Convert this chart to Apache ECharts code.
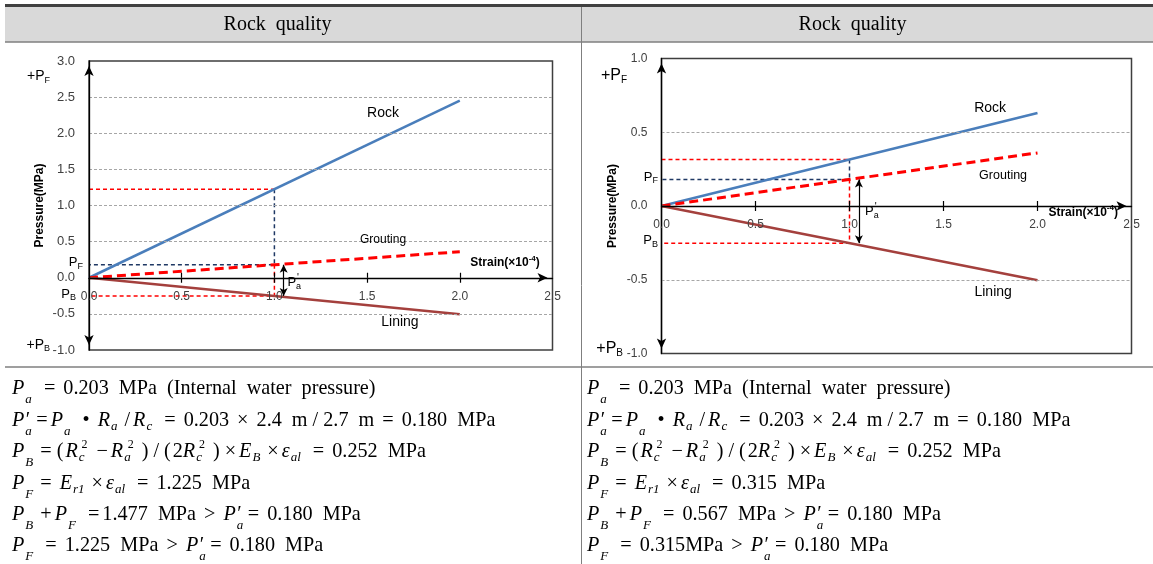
<!DOCTYPE html>
<html><head><meta charset="utf-8">
<script src="https://cdn.jsdelivr.net/npm/echarts@6/dist/echarts.min.js"></script>
<style>html,body{margin:0;padding:0;background:#fff}#c{width:1153px;height:564px}</style>
</head><body><div id="c"></div>
<script>
// ---------- data ----------
const headerTitles = ['Rock  quality', 'Rock  quality'];
const strain = [0, 2.0];
const rockA = [0, 2.45];
const groutA = [0, 0.36];
const liningA = [0, -0.504];
const rockB = [0, 0.63];
const groutB = [0, 0.36];
const liningB = [0, -0.504];
const checkStrain = 1.0;
const pFA = 1.225;
const pFB = 0.315;
const paPrime = 0.18;
const pB = -0.252;
const arrowStrain = 1.05;
const xTickLabels = [0, 0.5, 1.0, 1.5, 2.0, 2.5];
const xTickMarks = [0.5, 1.0, 1.5, 2.0];
const yRangeA = [-1, 3];
const yRangeB = [-1, 1];
const seriesNames = ['Rock', 'Grouting', 'Lining'];

const formulasLeft = [
  '{p|P}{sp|a}{r| }{o|=}{r| 0.203  MPa  (Internal  water  pressure)}',
  '{p|P}{sa|a}{q|′}{o|=}{p|P}{sp|a}{r| }{o|•}{r| }{p|R}{sr|a}{o|/}{p|R}{sr|c}{r| }{o|=}{r| 0.203 }{o|×}{r| 2.4  m / 2.7  m }{o|=}{r| 0.180  MPa}',
  '{p|P}{sp|B}{o|=}{pr|(}{p|R}{src|c}{uq|2}{o|−}{p|R}{src|a}{uq|2}{pr|)}{o|/}{pr|(}{r|2}{p|R}{src|c}{uq|2}{pr|)}{o|×}{p|E}{sr|B}{o|×}{p|ε}{sr|al}{r| }{o|=}{r| 0.252  MPa}',
  '{p|P}{sp|F}{o|=}{r| }{p|E}{sr|r1}{o|×}{p|ε}{sr|al}{r| }{o|=}{r| 1.225  MPa}',
  '{p|P}{sp|B}{o|+}{p|P}{sp|F}{r| }{o|=}{r|1.477  MPa }{o|>}{r| }{p|P}{sa|a}{q|′}{o|=}{r| 0.180  MPa}',
  '{p|P}{sp|F}{r| }{o|=}{r| 1.225  MPa }{o|>}{r| }{p|P}{sa|a}{q|′}{o|=}{r| 0.180  MPa}'
];
const formulasRight = [
  '{p|P}{sp|a}{r| }{o|=}{r| 0.203  MPa  (Internal  water  pressure)}',
  '{p|P}{sa|a}{q|′}{o|=}{p|P}{sp|a}{r| }{o|•}{r| }{p|R}{sr|a}{o|/}{p|R}{sr|c}{r| }{o|=}{r| 0.203 }{o|×}{r| 2.4  m / 2.7  m }{o|=}{r| 0.180  MPa}',
  '{p|P}{sp|B}{o|=}{pr|(}{p|R}{src|c}{uq|2}{o|−}{p|R}{src|a}{uq|2}{pr|)}{o|/}{pr|(}{r|2}{p|R}{src|c}{uq|2}{pr|)}{o|×}{p|E}{sr|B}{o|×}{p|ε}{sr|al}{r| }{o|=}{r| 0.252  MPa}',
  '{p|P}{sp|F}{o|=}{r| }{p|E}{sr|r1}{o|×}{p|ε}{sr|al}{r| }{o|=}{r| 0.315  MPa}',
  '{p|P}{sp|B}{o|+}{p|P}{sp|F}{r| }{o|=}{r| 0.567  MPa }{o|>}{r| }{p|P}{sa|a}{q|′}{o|=}{r| 0.180  MPa}',
  '{p|P}{sp|F}{r| }{o|=}{r| 0.315MPa }{o|>}{r| }{p|P}{sa|a}{q|′}{o|=}{r| 0.180  MPa}'
];

// ---------- styles ----------
const SANS = 'Liberation Sans, Arial, sans-serif';
const SERIF = 'Liberation Serif, Times New Roman, serif';
const COL_ROCK = '#4a7ebb', COL_GROUT = '#ff0000', COL_LINING = '#a4403d', COL_NAVY = '#1f3864';

const richSans = {
  m: {fontSize: 13, fontFamily: SANS, color: '#000'},
  m14: {fontSize: 14, fontFamily: SANS, color: '#000'},
  m16: {fontSize: 16, fontFamily: SANS, color: '#000'},
  s: {fontSize: 9, fontFamily: SANS, color: '#000', padding: [8, 0, 0, 0]},
  s11: {fontSize: 10, fontFamily: SANS, color: '#000', padding: [10, 0, 0, 0]},
  sa: {fontSize: 9, fontFamily: SANS, color: '#000', padding: [8, -4, 0, 0]},
  u: {fontSize: 10, fontFamily: SANS, color: '#000', padding: [0, 0, 8, 0]},
  b: {fontSize: 12, fontFamily: SANS, fontWeight: 'bold', color: '#000'},
  bs: {fontSize: 8, fontFamily: SANS, fontWeight: 'bold', color: '#000', padding: [0, 0, 8, 0]}
};
const FS = 20.2;
const richSerif = {
  p: {fontFamily: SERIF, fontStyle: 'italic', fontSize: FS, fill: '#000', padding: [0, 1, 0, 0]},
  r: {fontFamily: SERIF, fontSize: FS, fill: '#000'},
  pr: {fontFamily: SERIF, fontSize: FS, fill: '#000', padding: [0, 2, 0, 2]},
  o: {fontFamily: SERIF, fontSize: FS, fill: '#000', padding: [0, 3, 0, 3]},
  q: {fontFamily: SERIF, fontSize: FS, fill: '#000', padding: [0, 3, 0, 0]},
  sp: {fontFamily: SERIF, fontStyle: 'italic', fontSize: 13, fill: '#000', padding: [22, 4, 0, 0]},
  sa: {fontFamily: SERIF, fontStyle: 'italic', fontSize: 13, fill: '#000', padding: [22, -6, 0, 0]},
  sr: {fontFamily: SERIF, fontStyle: 'italic', fontSize: 13, fill: '#000', padding: [12, 4, 0, 0]},
  src: {fontFamily: SERIF, fontStyle: 'italic', fontSize: 13, fill: '#000', padding: [12, -3, 0, 0]},
  uq: {fontFamily: SERIF, fontSize: 12, fill: '#000', padding: [0, 6, 14, 0]}
};

const gridBoxes = [
  {left: 89, top: 61, width: 463.5, height: 289},
  {left: 661.5, top: 58.5, width: 470, height: 295}
];
const yRanges = [yRangeA, yRangeB];

function pts(xs, ys) { return xs.map((x, i) => [x, ys[i]]); }

// offset of the x axis so it sits at pressure 0 (derived from the y scale range)
function zeroOffset(g) {
  const r = yRanges[g];
  return -gridBoxes[g].height * (0 - r[0]) / (r[1] - r[0]);
}

function xAxes(g) {
  const off = zeroOffset(g);
  const base = {gridIndex: g, type: 'value', min: 0, max: 2.5, interval: 0.5, position: 'bottom', offset: off, z: 5, splitLine: {show: false}};
  return [
    Object.assign({}, base, {
      axisLine: {show: true, onZero: false, lineStyle: {color: '#000', width: 1.3},
        symbol: ['none', 'arrow'], symbolSize: [7, 10], symbolOffset: [0, -5]},
      axisTick: {show: true, length: 5, customValues: xTickMarks, lineStyle: {color: '#000', width: 1.2}},
      axisLabel: {show: true, customValues: xTickLabels, fontSize: 12, color: '#404040', margin: 13, fontFamily: SANS,
        formatter: v => Number(v).toFixed(1)}
    }),
    Object.assign({}, base, {
      axisLine: {show: false, onZero: false},
      axisTick: {show: true, inside: true, length: 5, customValues: xTickMarks, lineStyle: {color: '#000', width: 1.2}},
      axisLabel: {show: false}
    })
  ];
}
function yAxis(g, range, fs) {
  return {
    gridIndex: g, type: 'value', min: range[0], max: range[1], interval: 0.5, position: 'left', z: 4,
    name: 'Pressure(MPa)', nameLocation: 'middle', nameGap: 43, nameRotate: 90,
    nameTextStyle: {fontSize: 12, fontWeight: 'bold', color: '#000', fontFamily: SANS},
    axisLine: {show: true, onZero: false, lineStyle: {color: '#000', width: 1.3},
      symbol: ['arrow', 'arrow'], symbolSize: [7, 10], symbolOffset: [5, -5]},
    axisTick: {show: false},
    axisLabel: {fontSize: fs, color: '#404040', margin: 14, fontFamily: SANS, formatter: v => Number(v).toFixed(1)},
    splitLine: {show: true, showMinLine: false, showMaxLine: false, lineStyle: {color: '#a6a6a6', type: [3, 2], width: 1}}
  };
}
function line(g, name, data, color, width, type, z) {
  return {type: 'line', name, xAxisIndex: 2 * g, yAxisIndex: g, data, symbol: 'none', showSymbol: false,
    silent: true, animation: false, z, lineStyle: {color, width, type}};
}
function ann(coord, formatter, opts) {
  return {coord, symbol: 'circle', symbolSize: 0, itemStyle: {color: 'rgba(0,0,0,0)'},
    label: Object.assign({show: true, position: 'inside', formatter, color: '#000', fontFamily: SANS, fontSize: 13, rich: richSans}, opts || {})};
}
function chartSeries(g, rock, grout, lining, pF, anns) {
  const s = [];
  s.push(line(g, 'refRedTop', [[0, pF], [checkStrain, pF]], '#ff0000', 1.5, [4, 3], 2));
  s.push(line(g, 'refNavy', [[checkStrain, pF], [checkStrain, paPrime], [0, paPrime]], COL_NAVY, 1.5, [4, 3], 2));
  s.push(line(g, 'refRedBottom', [[checkStrain, paPrime], [checkStrain, pB], [0, pB]], '#ff0000', 1.5, [4, 3], 2));
  const rockS = line(g, seriesNames[0], pts(strain, rock), COL_ROCK, 2.5, 'solid', 3);
  rockS.markPoint = {silent: true, animation: false, data: anns};
  s.push(rockS);
  s.push(line(g, seriesNames[1], pts(strain, grout), COL_GROUT, 3, [9, 5], 3));
  const linS = line(g, seriesNames[2], pts(strain, lining), COL_LINING, 2.5, 'solid', 3);
  linS.markLine = {silent: true, animation: false, symbol: ['arrow', 'arrow'], symbolSize: [6, 8],
    lineStyle: {color: '#000', width: 1.2, type: 'solid'}, label: {show: false},
    data: [[{coord: [arrowStrain, paPrime]}, {coord: [arrowStrain, pB]}]]};
  s.push(linS);
  return s;
}

const strainLabel = '{b|Strain(×10}{bs|-4}{b|)}';
const paLabel = '{m|P}{sa|a}{u|\'}';
const annsA = [
  ann([1.586, 2.28], 'Rock', {fontSize: 14}),
  ann([1.586, 0.52], 'Grouting', {fontSize: 12}),
  ann([1.677, -0.612], 'Lining', {fontSize: 14}),
  ann([2.244, 0.204], strainLabel),
  ann([1.07, -0.065], paLabel, {position: 'right', distance: 0}),
  ann([0, 0.21], '{m|P}{s|F}', {position: 'left', distance: 6}),
  ann([0, -0.225], '{m|P}{s|B}', {position: 'left', distance: 13}),
  ann([0, 2.79], '{m14|+P}{s|F}', {position: 'left', distance: 39}),
  ann([0, -0.93], '{m14|+P}{s|B}', {position: 'left', distance: 39})
];
const annsB = [
  ann([1.748, 0.663], 'Rock', {fontSize: 14}),
  ann([1.817, 0.209], 'Grouting', {fontSize: 12.5}),
  ann([1.764, -0.584], 'Lining', {fontSize: 14}),
  ann([2.243, -0.042], strainLabel),
  ann([1.083, -0.035], paLabel, {position: 'right', distance: 0}),
  ann([0, 0.197], '{m|P}{s|F}', {position: 'left', distance: 3.5}),
  ann([0, -0.232], '{m|P}{s|B}', {position: 'left', distance: 3.5}),
  ann([0, 0.887], '{m16|+P}{s11|F}', {position: 'left', distance: 34.5}),
  ann([0, -0.964], '{m16|+P}{s11|B}', {position: 'left', distance: 38.5})
];

const gridStyle = {show: true, borderColor: '#3f3f3f', borderWidth: 1.5, backgroundColor: 'rgba(0,0,0,0)'};
const option = {
  animation: false,
  textStyle: {fontFamily: SANS},
  grid: gridBoxes.map(b => Object.assign({}, b, gridStyle)),
  xAxis: xAxes(0).concat(xAxes(1)),
  yAxis: [yAxis(0, yRangeA, 13), yAxis(1, yRangeB, 12)],
  series: chartSeries(0, rockA, groutA, liningA, pFA, annsA).concat(chartSeries(1, rockB, groutB, liningB, pFB, annsB)),
  graphic: [
    {type: 'rect', z: -10, silent: true, shape: {x: 5, y: 7, width: 1148, height: 35}, style: {fill: '#d9d9d9'}},
    {type: 'line', z: 10, silent: true, shape: {x1: 5, y1: 5.5, x2: 1153, y2: 5.5}, style: {stroke: '#404040', lineWidth: 3}},
    {type: 'line', z: 10, silent: true, shape: {x1: 5, y1: 42, x2: 1153, y2: 42}, style: {stroke: '#7f7f7f', lineWidth: 1.5}},
    {type: 'line', z: 10, silent: true, shape: {x1: 5, y1: 367, x2: 1153, y2: 367}, style: {stroke: '#7f7f7f', lineWidth: 1.5}},
    {type: 'line', z: 10, silent: true, shape: {x1: 581.5, y1: 7, x2: 581.5, y2: 564}, style: {stroke: '#7f7f7f', lineWidth: 1}},
    {type: 'text', z: 10, silent: true, style: {x: 277.5, y: 25, text: headerTitles[0], align: 'center', verticalAlign: 'middle',
      fontFamily: SERIF, fontSize: 20, fill: '#000'}},
    {type: 'text', z: 10, silent: true, style: {x: 852.5, y: 25, text: headerTitles[1], align: 'center', verticalAlign: 'middle',
      fontFamily: SERIF, fontSize: 20, fill: '#000'}},
    {type: 'text', z: 10, silent: true, style: {x: 12, y: 373.3, text: formulasLeft.join('\n'), rich: richSerif,
      fontFamily: SERIF, fontSize: FS, lineHeight: 31.4, fill: '#000', verticalAlign: 'top'}},
    {type: 'text', z: 10, silent: true, style: {x: 587, y: 373.3, text: formulasRight.join('\n'), rich: richSerif,
      fontFamily: SERIF, fontSize: FS, lineHeight: 31.4, fill: '#000', verticalAlign: 'top'}}
  ]
};
const chart = echarts.init(document.getElementById('c'));
chart.setOption(option);
</script></body></html>
